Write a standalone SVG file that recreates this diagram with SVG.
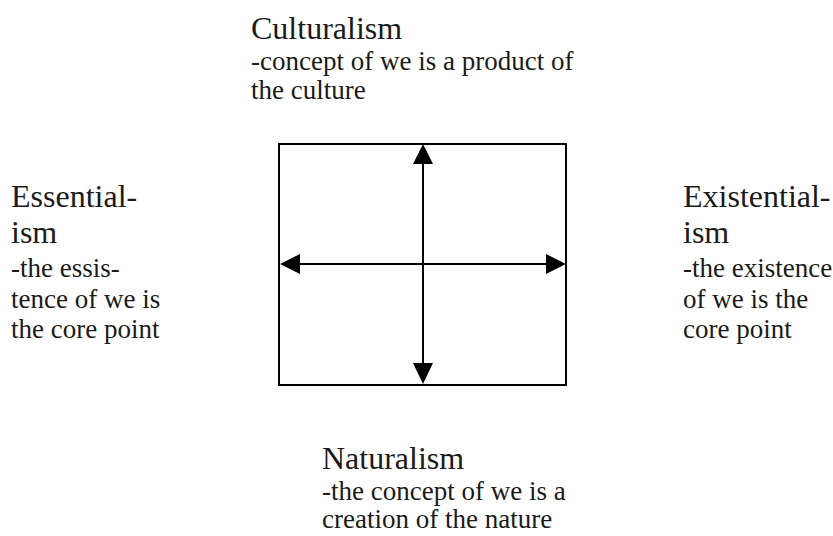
<svg xmlns="http://www.w3.org/2000/svg" width="833" height="536" viewBox="0 0 833 536">
  <style>
    text { font-family: "Liberation Serif", "Times New Roman", Times, serif; fill: #1a1a1a; }
    .title { font-size: 32px; }
    .sub { font-size: 27px; }
    .frame { fill: none; stroke: #000; stroke-width: 2; }
    .axis { stroke: #000; stroke-width: 2; fill: none; }
    .head { fill: #000; stroke: none; }
  </style>

  <rect width="833" height="536" fill="#fff"/>

  <!-- central frame -->
  <g id="frame">
    <rect class="frame" x="279" y="144" width="287" height="241"/>
  </g>

  <!-- double-headed axes -->
  <g id="connectors">
    <line class="axis" x1="423" y1="160" x2="423" y2="367"/>
    <polygon class="head" points="423,144 413,164 433,164"/>
    <polygon class="head" points="423,384 413,363 433,363"/>
    <line class="axis" x1="296" y1="264" x2="550" y2="264"/>
    <polygon class="head" points="280,264 300,254 300,274"/>
    <polygon class="head" points="566,264 546,254 546,274"/>
  </g>

  <g id="culturalism" font-family="Liberation Serif, serif">
    <text class="title" x="251" y="39">Culturalism</text>
    <text class="sub" x="251" y="70">-concept of we is a product of</text>
    <text class="sub" x="251" y="99">the culture</text>
  </g>

  <g id="essentialism" font-family="Liberation Serif, serif">
    <text class="title" x="11" y="207">Essential-</text>
    <text class="title" x="11" y="243">ism</text>
    <text class="sub" x="11" y="277">-the essis-</text>
    <text class="sub" x="11" y="308">tence of we is</text>
    <text class="sub" x="11" y="338">the core point</text>
  </g>

  <g id="existentialism" font-family="Liberation Serif, serif">
    <text class="title" x="683" y="207">Existential-</text>
    <text class="title" x="683" y="243">ism</text>
    <text class="sub" x="683" y="277">-the existence</text>
    <text class="sub" x="683" y="308">of we is the</text>
    <text class="sub" x="683" y="338">core point</text>
  </g>

  <g id="naturalism" font-family="Liberation Serif, serif">
    <text class="title" x="322" y="469">Naturalism</text>
    <text class="sub" x="322" y="500">-the concept of we is a</text>
    <text class="sub" x="322" y="528">creation of the nature</text>
  </g>
</svg>
